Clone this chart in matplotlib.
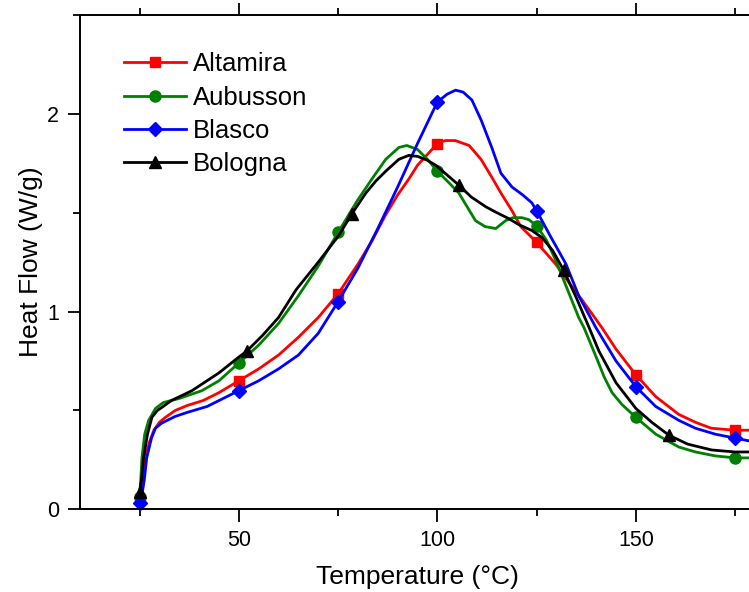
import numpy as np
import matplotlib
matplotlib.use("Agg")
import matplotlib.pyplot as plt
from matplotlib.ticker import MultipleLocator

plt.rcParams['font.family'] = ['Liberation Sans', 'DejaVu Sans']

# ---- data ----
alt_T = [25, 25.8, 26.5, 27.5, 28.6, 30, 31.5, 34, 37, 41, 45, 50, 55, 60, 65, 70, 75, 80, 83.6, 87, 90, 92.8, 95, 100,
         102, 104.5, 108, 111, 113.7, 116, 118.8, 121, 125, 129.8, 133, 136.4, 141.4, 145, 150, 155, 160.8, 165,
         169, 175, 180]
alt_HF = [0.05, 0.12, 0.26, 0.34, 0.40, 0.44, 0.465, 0.50, 0.525, 0.55, 0.59, 0.65, 0.71, 0.78, 0.87, 0.97, 1.09, 1.24,
          1.36, 1.49, 1.59, 1.67, 1.74, 1.85, 1.865, 1.865, 1.84, 1.77, 1.68, 1.60, 1.51, 1.43, 1.35, 1.24, 1.15,
          1.06, 0.92, 0.81, 0.68, 0.57, 0.48, 0.44, 0.41, 0.40, 0.40]
alt_mT = [25, 50, 75, 100, 125, 150, 175]

aub_T = [25, 25.3, 25.6, 26.3, 27.3, 29, 31, 34.9, 40.7, 45, 50, 55, 60, 65, 70, 75, 79.8, 83.5, 87, 90.3, 92.3, 95,
         97.5, 100, 102.5, 105.4, 107.5, 109.6, 112, 114.7, 117.2, 119, 121.3, 123, 125, 127.5, 129.8, 133, 135.6,
         136.9, 140, 142, 144, 146.5, 150, 155, 160.8, 165, 170, 175, 180]
aub_HF = [0.06, 0.15, 0.26, 0.38, 0.45, 0.51, 0.54, 0.56, 0.60, 0.65, 0.74, 0.83, 0.94, 1.08, 1.23, 1.40, 1.56, 1.67,
          1.77, 1.83, 1.84, 1.82, 1.77, 1.71, 1.66, 1.60, 1.53, 1.46, 1.43, 1.42, 1.46, 1.475, 1.475, 1.465, 1.435,
          1.36, 1.26, 1.10, 0.97, 0.92, 0.77, 0.67, 0.59, 0.53, 0.465, 0.38, 0.315, 0.29, 0.27, 0.26, 0.26]
aub_mT = [25, 50, 75, 100, 125, 150, 175]

bla_T = [25, 25.5, 26.2, 26.8, 28, 29, 30.5, 31.5, 34, 37, 42, 45, 50, 55, 60, 65, 70, 75, 80, 85, 90, 95, 100,
         102.5, 104.6, 106.5, 108.7, 111, 113.7, 116, 118.8, 121.5, 123.8, 125, 128.5, 132.4, 135.6, 139.9, 145,
         150, 155, 160.8, 165, 170, 175, 180]
bla_HF = [0.03, 0.06, 0.15, 0.26, 0.36, 0.41, 0.435, 0.445, 0.47, 0.49, 0.52, 0.55, 0.60, 0.65, 0.71, 0.78, 0.89,
          1.05, 1.22, 1.42, 1.63, 1.85, 2.06, 2.10, 2.12, 2.11, 2.07, 1.97, 1.83, 1.70, 1.63, 1.59, 1.55, 1.51,
          1.38, 1.24, 1.08, 0.92, 0.75, 0.62, 0.52, 0.45, 0.41, 0.38, 0.36, 0.34]
bla_mT = [25, 50, 75, 100, 125, 150, 175]

bol_T = [25, 25.5, 26.0, 27, 28.1, 29.5, 30.6, 33, 38.2, 45, 50, 52, 56, 60, 64.4, 70, 75, 78.5, 82, 84.5, 87, 90.3,
         92.8, 95, 97.5, 99.6, 102.5, 105.4, 108.5, 112.2, 115, 118, 120.5, 123.8, 126.3, 129, 131.8, 135, 138.2,
         140.7, 145, 150, 154, 158.3, 163, 169.1, 175, 180]
bol_HF = [0.09, 0.15, 0.26, 0.38, 0.465, 0.50, 0.515, 0.55, 0.60, 0.69, 0.77, 0.80, 0.88, 0.97, 1.11, 1.25, 1.38,
          1.495, 1.60, 1.66, 1.71, 1.77, 1.79, 1.785, 1.765, 1.74, 1.69, 1.64, 1.58, 1.53, 1.50, 1.47, 1.44, 1.41,
          1.375, 1.31, 1.21, 1.07, 0.92, 0.80, 0.64, 0.51, 0.44, 0.375, 0.33, 0.30, 0.29, 0.29]
bol_mT = [25, 52, 78.5, 105.4, 131.8, 158.3]

series = [
    ("Altamira", alt_T, alt_HF, alt_mT, "#FF0000", "s", 7.5),
    ("Aubusson", aub_T, aub_HF, aub_mT, "#008000", "o", 8),
    ("Blasco", bla_T, bla_HF, bla_mT, "#0000FF", "D", 7.5),
    ("Bologna", bol_T, bol_HF, bol_mT, "#000000", "^", 9),
]

fig = plt.figure(figsize=(7.49, 5.92), dpi=100)
ax = fig.add_axes([80 / 749, (592 - 509.3) / 592, (755 - 80) / 749, (509.3 - 15) / 592])

for name, T, HF, mT, col, mk, ms in series:
    T = np.asarray(T)
    idx = [int(np.argmin(np.abs(T - t))) for t in mT]
    ax.plot(T, HF, color=col, lw=2.0, marker=mk, ms=ms, markevery=idx, label=name,
            clip_on=False, solid_joinstyle='round')

ax.set_xlim(10, 180)
ax.set_ylim(0, 2.5)
ax.xaxis.set_major_locator(MultipleLocator(50))
ax.xaxis.set_minor_locator(MultipleLocator(25))
ax.yaxis.set_major_locator(MultipleLocator(1))
ax.yaxis.set_minor_locator(MultipleLocator(0.5))
ax.tick_params(which='major', direction='out', length=9, width=1.3, labelsize=15.5, pad=6)
ax.tick_params(which='minor', direction='out', length=5, width=1.3)
ax.tick_params(axis='x', which='both', top=True, labeltop=False)
for sp in ax.spines.values():
    sp.set_linewidth(1.4)

ax.set_xlabel("Temperature (°C)", fontsize=19, labelpad=10)
ax.set_ylabel("Heat Flow (W/g)", fontsize=19, labelpad=3)

leg = ax.legend(loc='upper left', bbox_to_anchor=(0.05, 0.945), frameon=False, fontsize=18.5,
                handlelength=2.4, handletextpad=0.27, labelspacing=0.36, borderaxespad=0)

fig.savefig("out.png", dpi=100)
